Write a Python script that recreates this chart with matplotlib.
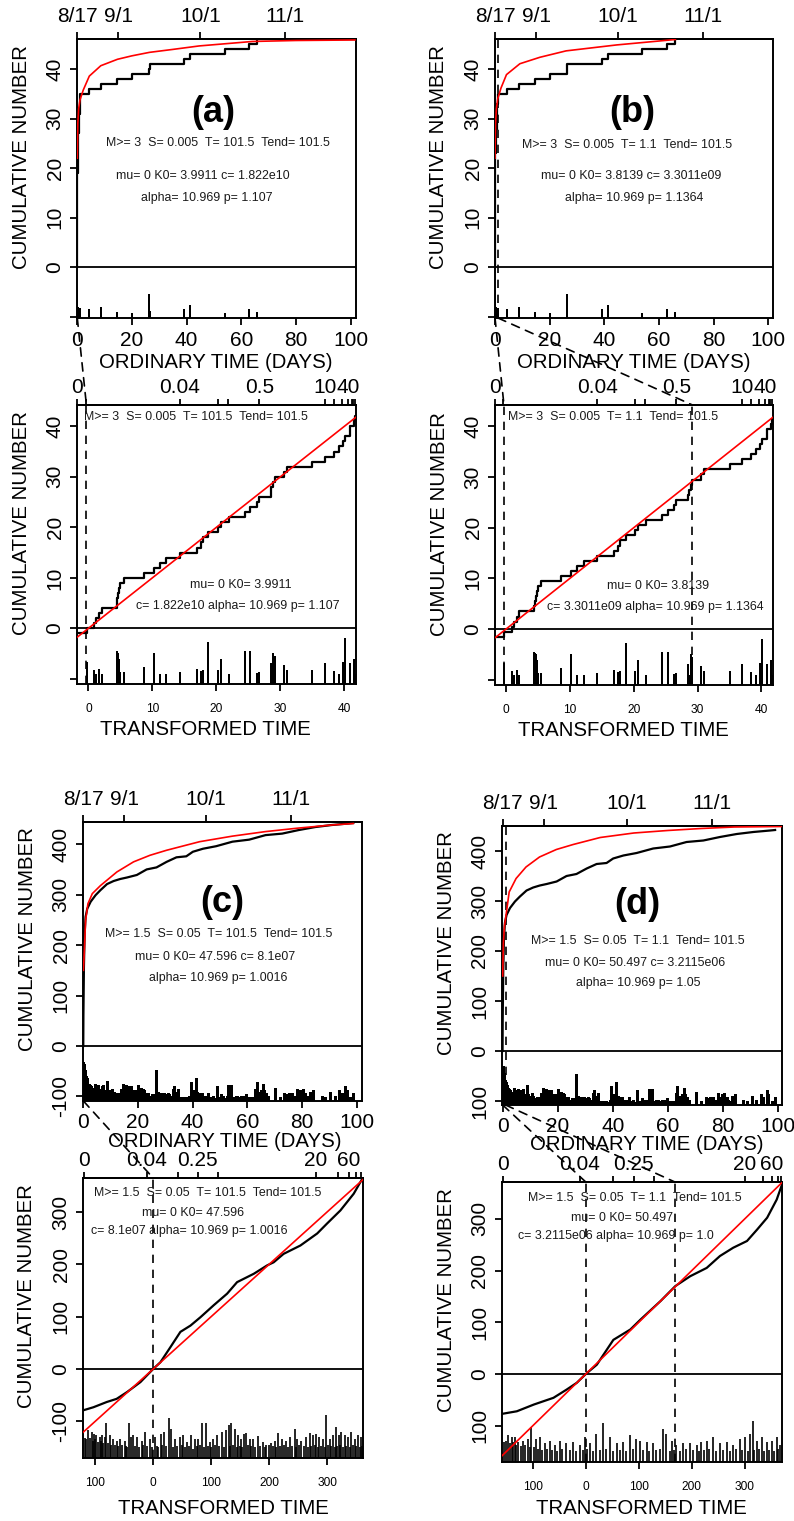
import numpy as np
import matplotlib
matplotlib.use('Agg')
import matplotlib.pyplot as plt
from matplotlib.patches import ConnectionPatch

plt.rcParams['font.family'] = ['Liberation Sans', 'DejaVu Sans']

W, H = 794, 1521

# ---------------- data : panels (a) and (b), M >= 3 ----------------
date_day = [0, 15, 45, 76]
date_lab = ['8/17', '9/1', '10/1', '11/1']

ab_day = [0.0005, 0.001, 0.002, 0.004, 0.006, 0.008, 0.01, 0.012, 0.015, 0.018,
          0.02, 0.025, 0.03, 0.035, 0.04, 0.05, 0.06, 0.07, 0.08, 0.1,
          0.12, 0.15, 0.18, 0.22, 0.27, 0.33, 0.4, 0.5, 0.58, 0.66,
          0.75, 0.83, 0.9, 0.97, 1.0, 4.4, 8.6, 14.7, 20.0, 26.4,
          26.5, 39.2, 41.2, 53.9, 62.8, 65.8]
ab_day_mag = [5.2, 3.9, 4.2, 3.5, 3.8, 3.3, 4.0, 3.4, 3.6, 3.2,
              3.9, 3.3, 3.5, 3.7, 3.2, 3.4, 3.6, 3.3, 3.2, 3.5,
              3.3, 3.4, 3.2, 3.6, 3.3, 3.2, 3.4, 3.3, 3.5, 3.2,
              3.3, 3.4, 3.2, 3.3, 3.5, 3.4, 3.6, 3.2, 3.1, 4.85,
              3.3, 3.4, 3.85, 3.1, 3.45, 3.2]

ab_tau = [-0.26, 0.94, 1.2, 1.67, 2.08, 4.43, 4.53, 4.69, 4.84, 5.0,
          5.57, 8.7, 10.2, 11.2, 12.2, 14.3, 16.9, 17.6, 17.9, 18.75,
          20.2, 20.7, 21.9, 24.5, 25.3, 26.3, 26.7, 28.5, 28.6, 28.9,
          29.1, 30.5, 31.0, 35.0, 37.0, 38.3, 39.1, 39.8, 40.1, 40.8,
          40.9, 41.5, 41.6]
ab_tau_mag = [3.67, 3.31, 3.11, 3.34, 3.11, 4.24, 4.16, 4.13, 3.83, 3.2,
              3.21, 3.42, 4.13, 3.11, 3.11, 3.21, 3.34, 3.22, 3.31, 4.66,
              3.31, 3.83, 3.11, 4.24, 4.24, 3.14, 3.21, 3.64, 3.11, 4.13,
              3.97, 3.55, 3.31, 3.31, 3.64, 3.22, 3.11, 3.67, 4.87, 3.31,
              3.64, 3.83, 3.11]

a_red_day = [0.0, 0.2, 0.5, 1.0, 2.2, 4.4, 8.6, 14.7, 20, 26.4, 35, 44.6, 64, 80, 101.5]
a_red_n = [22, 29, 32, 33.8, 35.8, 38.6, 40.7, 42.0, 42.7, 43.4, 44.0, 44.7, 45.6, 45.8, 45.9]
b_red_day = [0.0, 0.2, 0.5, 1.0, 2.2, 4.2, 9.1, 16.4, 26, 44.5, 66]
b_red_n = [22, 29, 32, 34, 36.2, 38.9, 41.1, 42.4, 43.7, 44.9, 46.0]
b_count_offset = -0.5

ab_top_tick = [-1.7, -0.4, 14.3, 20.2, 21.8, 26.7, 37.0, 38.3, 39.6, 40.6, 41.1, 41.4, 41.7]
ab_top_lab = ['0', '', '0.04', '', '', '0.5', '10', '', '', '40', '', '', '']

# ---------------- data : panels (c) and (d), M >= 1.5 ----------------
cd_day = [0, 0.36, 0.85, 1.2, 1.8, 2.4, 3.0, 3.6, 4.2, 4.8, 5.5, 6.1, 6.7, 7.3, 7.9, 8.8, 9.3,
          10.1, 10.5, 11.2, 11.8, 12.5, 13.0, 13.9, 14.7, 15.2, 15.8, 16.4, 17.0, 17.6, 18.2,
          18.8, 19.4, 20.0, 20.7, 21.2, 21.9, 22.4, 23.0, 23.6, 24.2, 24.8, 25.5, 26.7, 27.3,
          27.9, 28.5, 29.1, 29.7, 30.3, 30.9, 31.5, 32.1, 32.7, 33.3, 33.9, 34.5, 35.2, 35.8,
          36.4, 37.0, 37.6, 38.2, 39.4, 40.0, 40.6, 41.2, 41.8, 42.4, 43.3, 44.0, 44.8, 45.7,
          46.4, 47.3, 48.1, 48.8, 49.7, 50.5, 51.2, 52.1, 53.0, 53.7, 54.2, 54.9, 55.8, 56.4,
          57.2, 57.8, 58.8, 59.5, 60.2, 61.0, 61.6, 62.2, 62.8, 63.4, 64.0, 64.6, 65.2, 65.8,
          66.3, 67.0, 67.6, 70.3, 73.6, 74.3, 75.2, 75.8, 76.4, 78.2, 78.8, 79.4, 80.4, 81.2,
          81.8, 83.0, 83.6, 84.2, 87.3, 90.3, 93.7, 94.5, 95.8, 96.4, 98.8,
          0.15, 0.25, 0.5, 0.65, 1.0, 1.5, 2.1, 2.7, 3.3, 3.9, 4.5, 5.1, 5.8, 6.4, 7.0, 7.6,
          8.3, 9.7, 10.8, 12.2, 13.5, 14.3, 16.1, 16.7, 17.3, 17.9, 18.5, 19.1, 19.7, 20.4,
          22.7, 24.5, 25.1, 25.9, 26.3, 28.2, 29.4, 31.2, 33.6, 36.7, 38.8, 41.5, 45.0, 50.0,
          52.5, 56.0, 58.0, 61.3, 66.6, 72.0, 77.0, 82.5, 88.5, 92.0, 97.5]
cd_day_mag = [4.4, 3.9, 3.4, 3.2, 2.7, 2.7, 2.4, 2.3, 2.8, 2.6, 2.7, 2.4, 2.6, 2.7, 2.3, 3.0, 2.3,
              2.2, 2.4, 2.2, 2.05, 2.1, 2.1, 2.4, 2.8, 2.7, 2.7, 2.6, 2.4, 2.6, 2.3,
              2.1, 2.3, 2.7, 2.3, 2.5, 2.4, 2.3, 2.1, 2.1, 1.8, 1.9, 1.8, 3.8, 2.2,
              2.1, 2.1, 2.1, 2.1, 2.0, 2.1, 2.0, 1.9, 2.4, 2.6, 2.2, 2.4, 1.8, 1.8,
              1.7, 1.7, 1.8, 1.7, 2.9, 2.3, 2.1, 3.2, 2.2, 2.1, 2.1, 1.9, 1.75, 2.1,
              1.8, 1.9, 1.7, 2.6, 1.8, 2.0, 1.9, 1.7, 2.7, 2.7, 2.7, 1.8, 1.9, 1.9,
              1.8, 1.85, 1.9, 2.0, 1.8, 1.7, 1.8, 1.8, 2.4, 2.9, 2.2, 2.1, 2.3, 2.8,
              2.3, 2.1, 1.9, 2.5, 2.1, 2.0, 2.1, 1.9, 2.1, 2.4, 2.1, 2.3, 2.4, 2.1,
              1.9, 2.2, 2.1, 2.3, 1.9, 2.2, 2.3, 2.1, 2.6, 2.3, 2.1,
              4.3, 4.2, 3.8, 3.6, 3.3, 3.0, 2.8, 2.6, 2.5, 2.5, 2.3, 2.4, 2.3, 2.2, 2.3, 2.2,
              2.3, 2.1, 2.2, 2.0, 2.1, 2.2, 2.1, 2.2, 2.0, 2.2, 2.0, 2.1, 2.0, 2.2,
              2.0, 1.9, 2.0, 1.9, 2.0, 1.9, 2.0, 1.9, 1.9, 1.8, 1.9, 2.0, 1.9, 1.8,
              1.9, 1.8, 1.9, 1.8, 2.0, 1.8, 1.9, 1.8, 1.8, 1.9, 1.8]

cd_cum_day = [0, 0.05, 0.24, 0.5, 0.85, 1.45, 2.7, 4.5, 6.3, 8.7, 11.1, 13.5, 16, 19.6, 23.2,
              26.8, 30.5, 34.1, 37.7, 40.1, 43.8, 48.6, 54.6, 60.7, 66.7, 72.8, 78.8, 84.9,
              90.9, 97, 98.8]
cd_cum_n = [0, 60, 157, 223, 256, 272, 286, 299, 309, 321, 327, 331, 334, 339, 350,
            354, 365, 374, 376, 385, 391, 396, 405, 409, 418, 421, 428, 434,
            438, 441, 442]
c_red_day = [0.05, 0.24, 0.85, 1.7, 3.3, 6.3, 12.3, 18.4, 24.4, 30.5, 42.6, 54.6, 66.7, 78.8, 90.9, 98.8]
c_red_n = [150, 170, 249, 282, 302, 318, 345, 365, 378, 388, 405, 416, 425, 432, 438, 441]
d_red_day = [0.05, 0.3, 0.7, 1.1, 2.4, 4.9, 8.5, 13.4, 19.5, 25.6, 35.4, 47.6, 59.8, 72, 84, 101.3]
d_red_n = [150, 215, 250, 265, 318, 345, 368, 388, 403, 413, 427, 436, 441, 445, 448, 449]

c_cum_tau = [-121, -103, -80, -63, -45, -22, 0, 12.6, 29.9, 47, 64.4, 81.6, 104.6, 127.6,
             144.8, 173.6, 196.6, 208, 225, 254, 283, 300, 323, 346, 360]
c_cum_n = [-79, -73, -63, -57, -44, -25, 0, 13, 42, 71, 83, 99, 122, 144,
           166, 182, 198, 204, 220, 236, 259, 278, 303, 335, 362]
d_cum_tau = [-158, -130, -98, -61, -36, -17, 0, 20.8, 52, 84, 103, 141, 169, 197, 228,
             253, 278, 304, 323, 342, 360, 370]
d_cum_n = [-77, -72, -59, -46, -30, -17, 0, 18, 66, 86, 105, 141, 170, 189, 205,
           228, 244, 257, 279, 302, 337, 366]

c_tau = [-112, -106, -102, -98, -92, -88, -83, -80.5, -75, -69, -63, -57, -49, -42, -38.5,
         -34.5, -27, -20, -14.4, -5.7, 2.9, 13, 19, 27, 31.6, 38.5, 46, 51.7, 59, 66,
         72, 77.6, 84.5, 92, 97.7, 103.4, 111, 118, 126.4, 130.5, 135, 140.8, 146.6, 151, 157,
         161, 166.7, 172.4, 181, 189.7, 195.4, 204, 209.8, 215.5, 222.4, 229.8, 235.7, 244.3,
         248.8, 255.7, 264.3, 270.2, 275.9, 281.6, 285.7, 293, 298.8, 304.6, 310.3, 316,
         320, 324.7, 330.5, 336.2, 342, 347.7, 353.4, 358,
         -118, -116, -109, -104, -100, -95, -90, -86, -78, -72, -66, -60, -53, -46, -45,
         -31, -24, -17, -10, -2, 6, 9, 16, 23, 35, 42, 49, 55, 62, 69, 75, 81, 88, 95, 100,
         107, 114, 122, 133, 138, 144, 149, 154, 164, 169, 176, 185, 193, 200, 207, 212,
         219, 226, 233, 240, 247, 252, 260, 267, 273, 279, 284, 290, 296, 302, 307, 313,
         318, 323, 328, 333, 339, 345, 350, 356, 361]
c_tau_mag = [3.6, 3.45, 3.3, 3.2, 3.1, 3.25, 3.1, 4.1, 3.25, 2.95, 2.8, 2.95, 2.8, 4.1, 3.1,
             3.2, 3.1, 2.8, 3.45, 2.95, 3.1, 3.3, 3.45, 4.5, 3.7, 2.95, 3.1, 3.2, 2.7, 3.2,
             2.95, 2.95, 4.15, 4.15, 2.7, 2.95, 3.2, 3.45, 3.6, 3.95, 4.1, 3.7, 3.2, 2.95, 3.3,
             3.4, 2.95, 2.95, 3.15, 2.7, 2.45, 2.6, 2.8, 3.4, 2.95, 2.8, 3.1, 3.7,
             2.95, 2.8, 3.1, 3.4, 3.2, 3.3, 3.1, 2.95, 4.7, 2.95, 3.2, 3.8,
             3.2, 3.45, 3.2, 3.1, 3.45, 2.95, 3.2, 3.1,
             3.0, 2.9, 3.0, 2.8, 2.9, 2.7, 2.8, 2.6, 2.6, 2.5, 2.5, 2.4, 2.5, 2.4, 2.3,
             2.4, 2.3, 2.5, 2.4, 2.3, 2.4, 2.3, 2.5, 2.4, 2.3, 2.4, 2.5, 2.3, 2.4, 2.2, 2.4, 2.5, 2.3, 2.4, 2.3,
             2.5, 2.4, 2.3, 2.4, 2.5, 2.3, 2.4, 2.3, 2.5, 2.4, 2.3, 2.4, 2.3, 2.5, 2.4, 2.3,
             2.4, 2.5, 2.3, 2.4, 2.3, 2.5, 2.4, 2.3, 2.4, 2.5, 2.3, 2.4, 2.3, 2.5, 2.4, 2.3,
             2.4, 2.5, 2.3, 2.4, 2.3, 2.5, 2.4, 2.3, 2.4]

d_tau = [-146.5, -140, -134, -128, -118, -109, -102.5, -94, -87, -77, -68, -58.5, -49, -36.5,
         -24, -11, -2, 7.5, 20, 32.7, 45, 58, 70, 83, 95.6, 102, 114.5, 127, 146, 152,
         161.7, 171, 183.6, 196, 209, 218, 227.7, 240, 253, 265.5, 278, 290.6, 300, 309.4,
         314.5, 322, 331.5, 341, 350.4, 360, 366,
         -155, -150, -143, -137, -131, -123, -114, -106, -98, -90, -82, -73, -63, -54, -44,
         -30, -18, -6, 3, 13, 26, 38, 51, 64, 76, 89, 108, 120, 133, 139, 158, 166, 177,
         189, 202, 213, 223, 233, 246, 259, 271, 284, 295, 305, 318, 327, 336, 346, 355, 363]
d_tau_mag = [3.5, 3.4, 3.4, 3.0, 3.1, 3.25, 4.1, 3.25, 3.4, 2.9, 3.1, 2.75, 3.1, 2.9,
             3.0, 2.75, 3.4, 2.9, 3.6, 4.4, 3.4, 2.9, 3.0, 3.5, 3.25, 3.1, 3.0, 2.9, 4.0, 3.6,
             3.1, 2.75, 2.9, 2.9, 2.75, 3.0, 3.1, 3.4, 2.9, 3.0, 2.75, 3.25, 3.4, 3.6,
             4.6, 3.1, 3.4, 3.0, 3.1, 3.4, 2.75,
             3.0, 3.1, 2.9, 3.0, 2.8, 2.7, 2.8, 2.6, 2.6, 2.5, 2.4, 2.5, 2.4, 2.3, 2.5,
             2.4, 2.3, 2.4, 2.5, 2.3, 2.4, 2.5, 2.3, 2.4, 2.3, 2.5, 2.4, 2.3, 2.4, 2.5, 2.3, 2.4, 2.3,
             2.5, 2.4, 2.3, 2.4, 2.5, 2.3, 2.4, 2.3, 2.5, 2.4, 2.3, 2.4, 2.5, 2.3, 2.4, 2.3, 2.5]

c_top_tick = [-119, -10.9, 43.6, 77, 111.6, 281, 318.4, 337.4, 350, 358.6]
c_top_lab = ['0', '0.04', '', '0.25', '', '20', '', '60', '', '']
d_top_tick = [-156, -11.3, 51, 90.6, 128, 300, 334, 351, 362, 368]
d_top_lab = ['0', '0.04', '', '0.25', '', '20', '', '60', '', '']

texts = {
    'a': ['M>= 3  S= 0.005  T= 101.5  Tend= 101.5', 'mu= 0 K0= 3.9911 c= 1.822e10', 'alpha= 10.969 p= 1.107'],
    'b': ['M>= 3  S= 0.005  T= 1.1  Tend= 101.5', 'mu= 0 K0= 3.8139 c= 3.3011e09', 'alpha= 10.969 p= 1.1364'],
    'a2': ['M>= 3  S= 0.005  T= 101.5  Tend= 101.5', 'mu= 0 K0= 3.9911', 'c= 1.822e10 alpha= 10.969 p= 1.107'],
    'b2': ['M>= 3  S= 0.005  T= 1.1  Tend= 101.5', 'mu= 0 K0= 3.8139', 'c= 3.3011e09 alpha= 10.969 p= 1.1364'],
    'c': ['M>= 1.5  S= 0.05  T= 101.5  Tend= 101.5', 'mu= 0 K0= 47.596 c= 8.1e07', 'alpha= 10.969 p= 1.0016'],
    'd': ['M>= 1.5  S= 0.05  T= 1.1  Tend= 101.5', 'mu= 0 K0= 50.497 c= 3.2115e06', 'alpha= 10.969 p= 1.05'],
    'c2': ['M>= 1.5  S= 0.05  T= 101.5  Tend= 101.5', 'mu= 0 K0= 47.596', 'c= 8.1e07 alpha= 10.969 p= 1.0016'],
    'd2': ['M>= 1.5  S= 0.05  T= 1.1  Tend= 101.5', 'mu= 0 K0= 50.497', 'c= 3.2115e06 alpha= 10.969 p= 1.0'],
}

# ---------------- drawing helpers ----------------
DASH = (0, (5, 4))
TXT = '#1a1a1a'
TICK_FS = 15


def box(fig, left, top, right, bottom):
    return fig.add_axes([left / W, 1 - bottom / H, (right - left) / W, (bottom - top) / H])


def frame(ax, xlim, ylim, xt, xl, yt, yl, small_x=False):
    ax.set_xlim(xlim)
    ax.set_ylim(ylim)
    ax.set_xticks(xt)
    ax.set_xticklabels(xl)
    ax.set_yticks(yt)
    ax.set_yticklabels(yl, rotation=90, va='center')
    ax.tick_params(direction='out', length=5, width=1.3, labelsize=TICK_FS, pad=4, colors='k')
    if small_x:
        ax.tick_params(axis='x', labelsize=8.6, pad=9)
    for s in ax.spines.values():
        s.set_linewidth(1.4)
    ax.axhline(0, color='#111', lw=1.4, zorder=2)


def top_axis(ax, ticks, labels, length=5, pad=4):
    sec = ax.secondary_xaxis('top')
    sec.set_xticks(ticks, labels=labels)
    sec.tick_params(direction='out', length=length, width=1.3, labelsize=TICK_FS, pad=pad)
    sec.spines['top'].set_linewidth(1.4)


def spikes(ax, x, mag, m0, px_per_mag, lw=1.0, aa=False):
    y0, y1 = ax.get_ylim()
    hpx = ax.get_position().height * H
    top = y0 + (np.asarray(mag) - m0) * px_per_mag * (y1 - y0) / hpx
    ax.vlines(x, y0, top, color='k', lw=lw, zorder=2, antialiased=aa)


def labels(ax, xlabel, xpos, ypos_x, ypos_y=(-0.2, 0.578)):
    ax.set_xlabel(xlabel, fontsize=14.7)
    ax.xaxis.set_label_coords(xpos, ypos_x)
    ax.xaxis.label.set_va('center')
    ax.set_ylabel('CUMULATIVE NUMBER', fontsize=14.7)
    ax.yaxis.set_label_coords(*ypos_y)
    ax.yaxis.label.set_va('center')


def notes(ax, lines, pos):
    for s, (x, y) in zip(lines, pos):
        ax.text(x, y, s, transform=ax.transAxes, ha='center', va='center', fontsize=8.9, color=TXT)


def connect(fig, axA, xyA, axB, xyB):
    con = ConnectionPatch(xyA=xyA, coordsA='data', axesA=axA, xyB=xyB, coordsB='data', axesB=axB,
                          color='k', lw=1.2, linestyle=DASH)
    fig.add_artist(con)


fig = plt.figure(figsize=(W / 100, H / 100), dpi=100)

ab_yt = [-10, 0, 10, 20, 30, 40]
ab_yl = ['', '0', '10', '20', '30', '40']
ord_xt = [0, 20, 40, 60, 80, 100]
ord_xl = ['0', '20', '40', '60', '80', '100']

# ---- (a) ordinary time ----
ax_a = box(fig, 77, 39, 356, 318)
frame(ax_a, (-0.1, 101.9), (-10.3, 46.1), ord_xt, ord_xl, ab_yt, ab_yl)
top_axis(ax_a, date_day, date_lab)
spikes(ax_a, ab_day, ab_day_mag, 2.6, 10.67, lw=1.4)
n = len(ab_day)
ax_a.step(np.r_[0, ab_day, 101.5], np.r_[0, np.arange(1, n + 1), n], where='post', color='k', lw=1.6, zorder=3)
ax_a.plot(a_red_day, a_red_n, color='red', lw=1.2, zorder=4)
ax_a.text(0.49, 0.738, '(a)', transform=ax_a.transAxes, ha='center', va='center', fontsize=26, fontweight='bold')
notes(ax_a, texts['a'], [(0.505, 0.627), (0.45, 0.509), (0.465, 0.43)])
labels(ax_a, 'ORDINARY TIME (DAYS)', 0.497, -0.161)

# ---- (b) ordinary time ----
ax_b = box(fig, 495, 39, 773, 318)
frame(ax_b, (0, 101.7), (-10.3, 46.1), ord_xt, ord_xl, ab_yt, ab_yl)
top_axis(ax_b, date_day, date_lab)
spikes(ax_b, ab_day, ab_day_mag, 2.6, 10.67, lw=1.4)
ax_b.step(np.r_[0, ab_day], np.r_[0, np.arange(1, n + 1)], where='post', color='k', lw=1.6, zorder=3)
ax_b.plot(b_red_day, b_red_n, color='red', lw=1.2, zorder=4)
ax_b.axvline(1.1, color='k', lw=1.2, ls=DASH, zorder=3)
ax_b.text(0.493, 0.738, '(b)', transform=ax_b.transAxes, ha='center', va='center', fontsize=26, fontweight='bold')
notes(ax_b, texts['b'], [(0.475, 0.62), (0.489, 0.509), (0.50, 0.43)])
labels(ax_b, 'ORDINARY TIME (DAYS)', 0.5, -0.161, (-0.205, 0.578))

# ---- (a), (b) transformed time ----
tr_xt = [0, 10, 20, 30, 40]
tr_xl = ['0', '10', '20', '30', '40']
m = len(ab_tau)
for key, (l, r, b_), xlim, off, tpos in [
        ('a2', (77, 356, 684), (-1.77, 41.8), 0.0, 0.459),
        ('b2', (495, 773, 685), (-1.7, 41.8), b_count_offset, 0.462)]:
    ax = box(fig, l, 405, r, b_)
    frame(ax, xlim, (-11.0, 44.2), tr_xt, tr_xl, ab_yt, ab_yl, small_x=True)
    top_axis(ax, ab_top_tick, ab_top_lab, length=4, pad=2)
    spikes(ax, ab_tau, ab_tau_mag, 2.6, 20.3, lw=1.4)
    ax.step(np.r_[xlim[0], ab_tau, xlim[1]], np.r_[-1, np.arange(m), m - 1] + off,
            where='post', color='k', lw=1.6, zorder=3)
    ax.axline((0, 0), slope=1, color='red', lw=1.2, zorder=4)
    ax.axvline(-0.3, color='k', lw=1.2, ls=DASH, zorder=3)
    if key == 'b2':
        ax.axvline(29.2, color='k', lw=1.2, ls=DASH, zorder=3)
        ax_b2 = ax
    else:
        ax_a2 = ax
    notes(ax, texts[key], [(0.425, 0.957), (0.587, 0.355), (0.575, 0.278)])
    labels(ax, 'TRANSFORMED TIME', tpos, -0.163, (-0.2, 0.576))

connect(fig, ax_a, (0.005, -10.3), ax_a2, (-0.3, 44.2))
connect(fig, ax_b, (0.005, -10.3), ax_b2, (-0.3, 44.2))
connect(fig, ax_b, (1.1, -10.3), ax_b2, (29.2, 44.2))

# ---- (c), (d) ordinary time ----
cd_yt = [-100, 0, 100, 200, 300, 400]
for key, (l, t, r, b_), xlim, ylim, red_d, red_n, ylab0, lpos in [
        ('c', (83, 822, 362, 1101), (-0.1, 102), (-109, 444), c_red_day, c_red_n, '-100',
         [(0.498, 0.713), (0.486, 0.599), (0.473, 0.516), (0.486, 0.44), (0.508, -0.146)]),
        ('d', (502, 826, 782, 1105), (-0.2, 101.3), (-108, 450), d_red_day, d_red_n, '100',
         [(0.484, 0.717), (0.486, 0.588), (0.474, 0.509), (0.486, 0.437), (0.517, -0.143)])]:
    ax = box(fig, l, t, r, b_)
    frame(ax, xlim, ylim, ord_xt, ord_xl, cd_yt, [ylab0, '0', '100', '200', '300', '400'])
    top_axis(ax, date_day, date_lab)
    spikes(ax, cd_day, cd_day_mag, 1.5, 13.33, lw=1.0)
    ax.plot(cd_cum_day, cd_cum_n, color='k', lw=1.6, zorder=3)
    ax.plot(red_d, red_n, color='red', lw=1.2, zorder=4)
    if key == 'd':
        ax.axvline(1.1, color='k', lw=1.2, ls=DASH, zorder=3)
        ax_d = ax
    else:
        ax_c = ax
    ax.text(*lpos[0], '(' + key + ')', transform=ax.transAxes, ha='center', va='center',
            fontsize=26, fontweight='bold')
    notes(ax, texts[key], lpos[1:4])
    labels(ax, 'ORDINARY TIME (DAYS)', lpos[4][0], lpos[4][1], (-0.2, 0.58))

# ---- (c), (d) transformed time ----
for key, (l, t, r, b_), xlim, ylim, cum_t, cum_n, sp_t, sp_m, tt, tl, lab0, npos, tpos in [
        ('c2', (83, 1178, 363, 1458), (-121, 362), (-170, 365), c_cum_tau, c_cum_n, c_tau, c_tau_mag,
         c_top_tick, c_top_lab, '-100', [(0.445, 0.946), (0.393, 0.875), (0.38, 0.81)], (0.501, -0.179)),
        ('d2', (502, 1182, 782, 1462), (-158, 370), (-170, 371), d_cum_tau, d_cum_n, d_tau, d_tau_mag,
         d_top_tick, d_top_lab, '100', [(0.475, 0.943), (0.43, 0.871), (0.407, 0.807)], (0.499, -0.165))]:
    ax = box(fig, l, t, r, b_)
    frame(ax, xlim, ylim, [-100, 0, 100, 200, 300], ['100', '0', '100', '200', '300'],
          [-100, 0, 100, 200, 300], [lab0, '0', '100', '200', '300'], small_x=True)
    top_axis(ax, tt, tl, length=4, pad=2)
    spikes(ax, sp_t, sp_m, 1.5, 13.33, lw=1.2, aa=True)
    ax.plot(cum_t, cum_n, color='k', lw=1.6, zorder=3)
    ax.axline((0, 0), slope=1, color='red', lw=1.2, zorder=4)
    ax.axvline(0, color='k', lw=1.2, ls=DASH, zorder=3)
    if key == 'd2':
        ax.axvline(168, color='k', lw=1.2, ls=DASH, zorder=3)
        ax_d2 = ax
    else:
        ax_c2 = ax
    notes(ax, texts[key], npos)
    labels(ax, 'TRANSFORMED TIME', tpos[0], tpos[1], (-0.2, 0.578))

connect(fig, ax_c, (0.05, -109), ax_c2, (0, 365))
connect(fig, ax_d, (0.05, -108), ax_d2, (0, 371))
connect(fig, ax_d, (1.1, -108), ax_d2, (168, 371))

fig.savefig('out.png', dpi=100)
